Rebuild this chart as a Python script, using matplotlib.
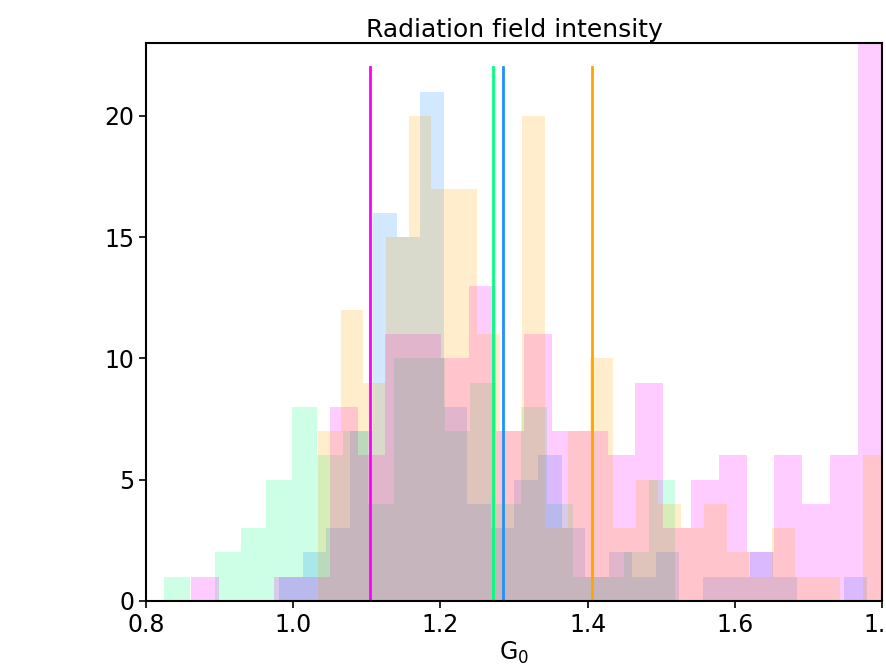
import numpy as np
import matplotlib
matplotlib.use("Agg")
import matplotlib.pyplot as plt

# ---- data ----
# each series: first bin edge, bin width, counts per bin
green_start, green_width = 0.8245, 0.03469
green_counts = [1, 0, 2, 3, 5, 8, 6, 7, 4, 10, 10, 7, 9, 4, 8, 4, 1, 1, 2, 5]

blue_start, blue_width = 0.9809, 0.03197
blue_counts = [1, 2, 3, 7, 16, 15, 21, 8, 4, 3, 5, 6, 3, 1, 2, 1, 2, 0, 1, 1, 2, 1, 0, 0, 1]

orange_start, orange_width = 1.0336, 0.03084
orange_counts = [7, 12, 9, 15, 20, 17, 17, 11, 7, 20, 3, 7, 10, 3, 5, 4, 3, 4, 2, 1, 3, 1, 1, 0, 6]

magenta_start, magenta_width = 0.8608, 0.03776
magenta_counts = [1, 0, 0, 1, 1, 8, 6, 11, 11, 10, 13, 7, 11, 7, 7, 6, 9, 3, 5, 6, 2, 6, 4, 6, 25]

line_values = [1.1048, 1.2721, 1.2857, 1.4054]
line_colors = ["magenta", "springgreen", "dodgerblue", "orange"]
line_top = 22

series = [
    (green_start, green_width, green_counts, "springgreen", 0.2),
    (blue_start, blue_width, blue_counts, "dodgerblue", 0.2),
    (magenta_start, magenta_width, magenta_counts, "magenta", 0.2),
    (orange_start, orange_width, orange_counts, "orange", 0.2),
]

fig = plt.figure(figsize=(8.86, 6.72), dpi=100)
ax = fig.add_axes([0.1648, 0.1057, 0.8307, 0.8303])

for start, width, counts, color, alpha in series:
    counts = np.asarray(counts, dtype=float)
    edges = start + width * np.arange(len(counts) + 1)
    centers = 0.5 * (edges[:-1] + edges[1:])
    ax.hist(centers, bins=edges, weights=counts, color=color, alpha=alpha,
            linewidth=0)

for v, c in zip(line_values, line_colors):
    ax.plot([v, v], [0, line_top], color=c, linewidth=2)

ax.set_xlim(0.8, 1.8)
ax.set_ylim(0, 23)
ax.set_xticks([0.8, 1.0, 1.2, 1.4, 1.6, 1.8])
ax.set_xticklabels(["0.8", "1.0", "1.2", "1.4", "1.6", "1.8"])
ax.set_yticks([0, 5, 10, 15, 20])
ax.tick_params(labelsize=17, length=5, width=1.2)
for s in ax.spines.values():
    s.set_linewidth(1.5)
ax.set_title("Radiation field intensity", fontsize=18, pad=4)
ax.set_xlabel("G$_0$", fontsize=17, labelpad=2)

fig.savefig("out.png", dpi=100)
